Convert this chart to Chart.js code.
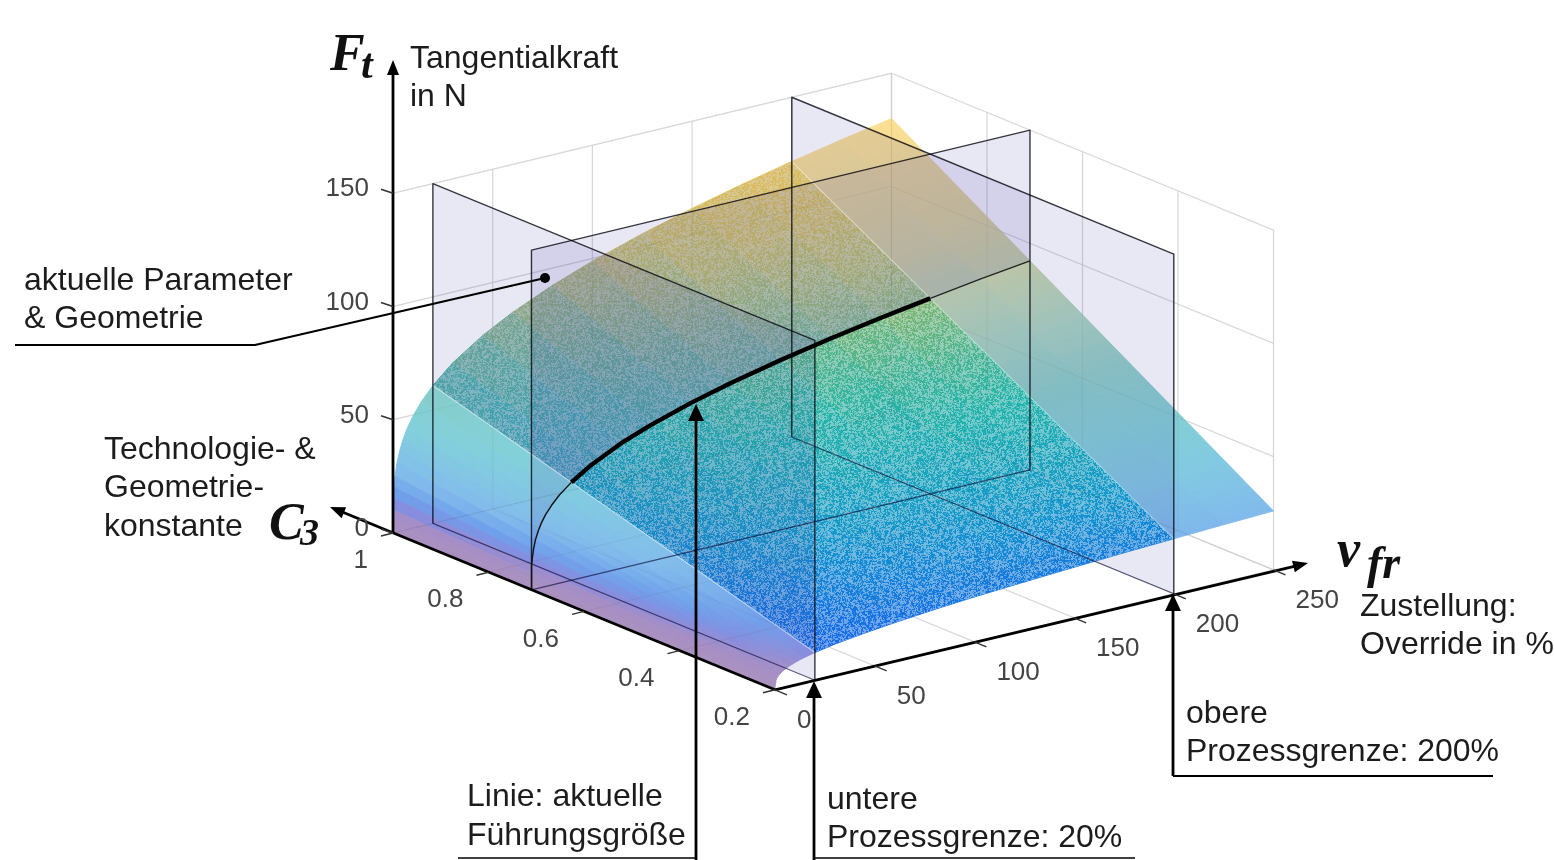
<!DOCTYPE html>
<html><head><meta charset="utf-8">
<style>html,body{margin:0;padding:0;background:#fff}canvas{display:block}</style>
<script src="https://cdn.jsdelivr.net/npm/chart.js@4/dist/chart.umd.min.js"></script>
</head><body><canvas id="c" width="1554" height="860"></canvas>
<script>
// ---- values ----
const C3_ROWS=[0.2,0.3,0.4,0.5,0.6,0.71,0.8,0.9,1];
const VFR_COLS=[0,0.002,0.01,0.05,0.2,0.5,1,2,3.5,5,7,10,14,20,30,45,60,80,100,125,150,175,200,225,250];
const FT_C020=[0,0.8,1.2,2.0,3.1,4.0,5.0,6.1,7.2,8.0,8.9,9.9,11.0,12.2,13.8,15.5,16.9,18.5,19.8,21.1,22.3,23.4,24.3,25.2,26];
const FT_C030=[0,1.1,1.9,3.0,4.6,6.1,7.4,9.2,10.8,12.1,13.4,14.9,16.4,18.3,20.6,23.3,25.4,27.7,29.6,31.7,33.5,35.0,36.5,37.8,39];
const FT_C040=[0,1.5,2.5,4.0,6.1,8.1,9.9,12.2,14.4,16.1,17.8,19.8,21.9,24.4,27.5,31.1,33.9,37.0,39.5,42.2,44.6,46.7,48.6,50.4,52];
const FT_C050=[0,1.9,3.1,5.1,7.7,10.1,12.4,15.3,18.1,20.1,22.3,24.8,27.4,30.5,34.4,38.9,42.4,46.2,49.4,52.8,55.8,58.4,60.8,63,65];
const FT_C060=[0,2.3,3.7,6.1,9.2,12.1,14.9,18.4,21.7,24.1,26.7,29.7,32.9,36.5,41.3,46.6,50.8,55.4,59.3,63.4,66.9,70.1,73.0,75.6,78];
const FT_C071=[0,2.7,4.4,7.2,10.9,14.3,17.6,21.7,25.6,28.5,31.6,35.1,38.9,43.2,48.8,55.2,60.1,65.6,70.1,75.0,79.2,82.9,86.3,89.5,92.3];
const FT_C080=[0,3.0,5.0,8.1,12.2,16.2,19.8,24.5,28.9,32.2,35.6,39.6,43.8,48.7,55.0,62.2,67.8,73.9,79.0,84.5,89.2,93.4,97.3,100.8,104];
const FT_C090=[0,3.4,5.6,9.1,13.8,18.2,22.3,27.5,32.5,36.2,40.1,44.6,49.3,54.8,61.9,69.9,76.2,83.2,88.9,95.0,100.4,105.1,109.4,113.4,117];
const FT_C100=[0,3.8,6.2,10.1,15.3,20.2,24.8,30.6,36.1,40.2,44.5,49.5,54.8,60.9,68.8,77.7,84.7,92.4,98.8,105.6,111.5,116.8,121.6,126,130];
const FT_TABLE=[FT_C020,FT_C030,FT_C040,FT_C050,FT_C060,FT_C071,FT_C080,FT_C090,FT_C100];
const C3_TICKS=[0.2,0.4,0.6,0.8,1];
const C3_TICK_LABELS=['0.2','0.4','0.6','0.8','1'];
const VFR_TICKS=[0,50,100,150,200,250];
const FT_TICKS=[0,50,100,150];
const FT_TOP=150;
const VFR_LOWER=20, VFR_UPPER=200, C3_CURRENT=0.71;

// ---- 3-D view ----
function project(c,v,f){return {x:393+(1-c)*477.5+v*1.994, y:533+(1-c)*196-v*0.48-f*2.265};}

function ramp(stops,f){
  if(f<=stops[0][0])return stops[0].slice(1);
  for(let i=1;i<stops.length;i++){
    if(f<=stops[i][0]){const a=stops[i-1],b=stops[i],t=(f-a[0])/(b[0]-a[0]);
      return [0,1,2].map(k=>a[k+1]+(b[k+1]-a[k+1])*t);}
  }
  return stops[stops.length-1].slice(1);
}
const SMOOTH=[[0,170,145,190],[8,165,142,198],[12,135,140,222],[18,110,160,235],[26,130,187,236],[45,130,208,220],[60,135,205,200],[78,175,215,190],[100,222,216,155],[130,253,224,145]];
const DENSE=[[0,20,90,235],[12,20,100,235],[35,15,150,205],[60,30,180,170],[78,90,180,130],[100,200,190,70],[122,245,190,50]];
const css=c=>`rgb(${c.map(Math.round).join(',')})`;

const ds=[];
function push(points,o){
  ds.push(Object.assign({data:points,showLine:true,pointRadius:0,pointHoverRadius:0,borderWidth:0,fill:false,tension:0,order:-ds.length},o));
}
function polyFill(points,bg){push(points.concat([points[0]]),{fill:'shape',backgroundColor:bg,borderColor:'transparent'});}
function line(points,color,width){push(points,{borderColor:color,borderWidth:width});}

function cellGradient(stops,i,j){
  const fm=k=>(FT_TABLE[k][j]+FT_TABLE[k][j+1])/2, vm=(VFR_COLS[j]+VFR_COLS[j+1])/2;
  const a3=project(C3_ROWS[i],vm,fm(i)), b3=project(C3_ROWS[i+1],vm,fm(i+1));
  const e1=project(C3_ROWS[i],VFR_COLS[j],FT_TABLE[i][j]), e2=project(C3_ROWS[i],VFR_COLS[j+1],FT_TABLE[i][j+1]);
  const c0=css(ramp(stops,fm(i))), c1=css(ramp(stops,fm(i+1)));
  return ctx=>{
    const {x,y}=ctx.chart.scales;
    const ax=x.getPixelForValue(a3.x),ay=y.getPixelForValue(a3.y),bx=x.getPixelForValue(b3.x),by=y.getPixelForValue(b3.y);
    if(![ax,ay,bx,by].every(Number.isFinite))return c0;
    let ex=x.getPixelForValue(e2.x)-x.getPixelForValue(e1.x),ey=y.getPixelForValue(e2.y)-y.getPixelForValue(e1.y);
    const l=Math.hypot(ex,ey)||1;const nx=-ey/l,ny=ex/l,d=(bx-ax)*nx+(by-ay)*ny;
    const g=ctx.chart.ctx.createLinearGradient(ax,ay,ax+nx*d,ay+ny*d);
    g.addColorStop(0,c0);g.addColorStop(1,c1);return g;
  };
}
function cells(r0,r1,k0,k1,stops){
  for(let i=r1-1;i>=r0;i--)for(let j=k1-1;j>=k0;j--){
    const P=(a,b)=>project(C3_ROWS[a],VFR_COLS[b],FT_TABLE[a][b]);
    const pts=[P(i,j),P(i,j+1),P(i+1,j+1),P(i+1,j)];
    const g=cellGradient(stops,i,j);
    push(pts.concat([pts[0]]),{fill:'shape',backgroundColor:g,borderColor:g,borderWidth:0.9});
  }
}
function outline(r0,r1,k0,k1){
  const pts=[];const P=(a,b)=>project(C3_ROWS[a],VFR_COLS[b],FT_TABLE[a][b]);
  for(let i=r0;i<=r1;i++)pts.push(P(i,k0));
  for(let j=k0;j<=k1;j++)pts.push(P(r1,j));
  for(let i=r1;i>=r0;i--)pts.push(P(i,k1));
  for(let j=k1;j>=k0;j--)pts.push(P(r0,j));
  return pts;
}
function stipple(r0,r1,k0,k1){polyFill(outline(r0,r1,k0,k1),ctx=>noisePattern(ctx.chart.ctx));}
let _pat=null;
function noisePattern(ctx){
  if(_pat)return _pat;
  const n=256,cv=document.createElement('canvas');cv.width=cv.height=n;const cx=cv.getContext('2d');
  const im=cx.createImageData(n,n),h=new Float32Array(n*n);let s=12345;
  for(let i=0;i<n*n;i++){s=(Math.imul(s,1664525)+1013904223)>>>0;h[i]=(s>>>8)/16777216;}
  for(let y=0;y<n;y++)for(let x=0;x<n;x++){
    let t=0;for(let dy=-1;dy<=1;dy++)for(let dx=-1;dx<=1;dx++){
      const w=(dx===0&&dy===0)?5:(dx===0||dy===0?0.8:0.2);t+=w*h[((y+dy+n)%n)*n+(x+dx+n)%n];}
    t/=9;
    const a=Math.max(0,Math.min(1,(t-0.4)*5))*0.46;
    const p=(y*n+x)*4;im.data[p]=232;im.data[p+1]=236;im.data[p+2]=240;im.data[p+3]=a*255;
  }
  cx.putImageData(im,0,0);_pat=ctx.createPattern(cv,'repeat');return _pat;
}

// box grid
const GRID='rgb(226,226,228)';
function gridSet(col,w){
  const cMin=C3_ROWS[0],vMax=VFR_COLS[VFR_COLS.length-1];
  VFR_TICKS.forEach(v=>{line([project(cMin,v,0),project(1,v,0)],col,w);if(v>0)line([project(1,v,0),project(1,v,FT_TOP)],col,w);});
  C3_TICKS.forEach(c=>{line([project(c,0,0),project(c,vMax,0)],col,w);line([project(c,vMax,0),project(c,vMax,FT_TOP)],col,w);});
  FT_TICKS.forEach(f=>{line([project(1,0,f),project(1,vMax,f)],col,w);line([project(1,vMax,f),project(cMin,vMax,f)],col,w);});
}
gridSet(GRID,1.3);

const PLANE='rgba(70,60,170,0.125)';
const cMin=C3_ROWS[0],vMax=VFR_COLS[VFR_COLS.length-1];
const planeV=v=>polyFill([project(1,v,FT_TOP),project(cMin,v,FT_TOP),project(cMin,v,0),project(1,v,0)],PLANE);
const planeC=(v0,v1)=>polyFill([project(C3_CURRENT,v0,FT_TOP),project(C3_CURRENT,v1,FT_TOP),project(C3_CURRENT,v1,0),project(C3_CURRENT,v0,0)],PLANE);

const iC=C3_ROWS.indexOf(C3_CURRENT),nR=C3_ROWS.length-1,nK=VFR_COLS.length-1,kL=VFR_COLS.indexOf(VFR_LOWER),kU=VFR_COLS.indexOf(VFR_UPPER);
// back slab
cells(iC,nR,kU,nK,SMOOTH);planeC(VFR_UPPER,vMax);cells(0,iC,kU,nK,SMOOTH);
planeV(VFR_UPPER);
// middle slab
cells(iC,nR,kL,kU,DENSE);stipple(iC,nR,kL,kU);polyFill(outline(iC,nR,kL,kU),'rgba(175,175,185,0.26)');planeC(VFR_LOWER,VFR_UPPER);cells(0,iC,kL,kU,DENSE);stipple(0,iC,kL,kU);
planeV(VFR_LOWER);
// front slab
cells(iC,nR,0,kL,SMOOTH);planeC(0,VFR_LOWER);cells(0,iC,0,kL,SMOOTH);

// things seen through the translucent surface
gridSet('rgba(40,40,60,0.05)',1.2);
const EDGE='rgba(0,0,10,0.78)',EDGE2='rgba(5,5,50,0.62)';
// pale seams where the planes cut the surface
[kL,kU].forEach(k=>line(C3_ROWS.map((c,i)=>project(c,VFR_COLS[k],FT_TABLE[i][k])),'rgba(255,255,255,0.5)',1.1));
// plane edges
[VFR_LOWER,VFR_UPPER].forEach(v=>{
  line([project(1,v,0),project(1,v,FT_TOP),project(cMin,v,FT_TOP),project(cMin,v,0)],EDGE,1.4);
  line([project(1,v,0),project(cMin,v,0)],EDGE2,1.2);
});
line([project(C3_CURRENT,0,0),project(C3_CURRENT,0,FT_TOP),project(C3_CURRENT,vMax,FT_TOP),project(C3_CURRENT,vMax,0)],EDGE,1.4);
line([project(C3_CURRENT,0,0),project(C3_CURRENT,vMax,0)],EDGE2,1.2);
// the reference curve on the surface
const curve=(k0,k1)=>VFR_COLS.slice(k0,k1+1).map((v,j)=>project(C3_CURRENT,v,FT_C071[k0+j]));
line(curve(0,kL),'#111',1.4);
line(curve(kU,nK),'#222',1.3);
line(curve(kL,kU),'#000',4.4);

// ---- axes, ticks, annotations ----
const FS='Liberation Sans, Arial, sans-serif';
function arrow(c,x0,y0,x1,y1,w,hl,hw){
  const a=Math.atan2(y1-y0,x1-x0),cs=Math.cos(a),sn=Math.sin(a);
  c.lineWidth=w;c.strokeStyle='#000';c.fillStyle='#000';
  c.beginPath();c.moveTo(x0,y0);c.lineTo(x1-cs*hl*.8,y1-sn*hl*.8);c.stroke();
  c.beginPath();c.moveTo(x1,y1);c.lineTo(x1-cs*hl-sn*hw,y1-sn*hl+cs*hw);c.lineTo(x1-cs*hl+sn*hw,y1-sn*hl-cs*hw);c.closePath();c.fill();
}
function polyl(c,pts,w){c.lineWidth=w;c.strokeStyle='#000';c.beginPath();pts.forEach((p,i)=>i?c.lineTo(p[0],p[1]):c.moveTo(p[0],p[1]));c.stroke();}
const annotate={id:'annotate',afterDatasetsDraw(chart){
  const c=chart.ctx,{x:sx,y:sy}=chart.scales;
  const P=(a,b,d)=>{const p=project(a,b,d);return [sx.getPixelForValue(p.x),sy.getPixelForValue(p.y)];};
  c.save();c.lineCap='butt';c.lineJoin='miter';
  const O=P(cMin,0,0),Z=P(1,0,0);
  arrow(c,O[0],O[1],330,507,2.8,15,6);
  arrow(c,O[0],O[1],1308,563,2.8,15,6);
  arrow(c,Z[0],Z[1],Z[0],60,2.8,15,6);
  // ticks
  c.strokeStyle='#333';c.lineWidth=1.4;
  FT_TICKS.forEach(f=>{const p=P(1,0,f);c.beginPath();c.moveTo(p[0],p[1]);c.lineTo(p[0]-12,p[1]-4);c.stroke();});
  C3_TICKS.forEach(t=>{const p=P(t,0,0);c.beginPath();c.moveTo(p[0],p[1]);c.lineTo(p[0]-12,p[1]+3);c.stroke();});
  VFR_TICKS.forEach(v=>{const p=P(cMin,v,0);c.beginPath();c.moveTo(p[0],p[1]);c.lineTo(p[0]+12,p[1]+5);c.stroke();});
  // tick labels
  c.font='26px '+FS;c.fillStyle='#444';c.textBaseline='middle';
  c.textAlign='right';
  FT_TICKS.forEach(f=>{const p=P(1,0,f);c.fillText(String(f),369,p[1]-4);});
  C3_TICKS.forEach((t,i)=>{const p=P(t,0,0);c.fillText(C3_TICK_LABELS[i],p[0]-25,p[1]+28);});
  c.textAlign='left';
  VFR_TICKS.forEach(v=>{const p=P(cMin,v,0);c.fillText(String(v),p[0]+22,p[1]+31);});
  // leaders
  polyl(c,[[15,345],[255,345],[545,278]],2.2);
  c.fillStyle='#000';c.beginPath();c.arc(545,278,5,0,7);c.fill();
  arrow(c,696,860,696,404,2.8,17,8);
  arrow(c,814,860,814,681,2.8,17,8);
  arrow(c,1173,776,1173,594,2.8,17,8);
  polyl(c,[[1173,776],[1493,776]],2.2);
  polyl(c,[[458,858],[696,858]],1.6);
  polyl(c,[[814,858],[1135,858]],1.6);
  // texts
  c.font='32px '+FS;c.fillStyle='#1c1c1c';c.textAlign='left';c.textBaseline='middle';
  [['Tangentialkraft',410,59],['in N',410,97],['aktuelle Parameter',24,281],['& Geometrie',24,319],
   ['Technologie- &',104,450],['Geometrie-',104,488],['konstante',104,527],
   ['Zustellung:',1360,607],['Override in %',1360,645],['obere',1186,714],['Prozessgrenze: 200%',1186,752],
   ['untere',827,800],['Prozessgrenze: 20%',827,838],['Linie: aktuelle',467,797],['Führungsgröße',467,836]
  ].forEach(t=>c.fillText(t[0],t[1],t[2]));
  // symbols
  c.fillStyle='#111';c.textBaseline='alphabetic';
  const SERIF='"Liberation Serif", "DejaVu Serif", serif';
  [['F',330,70,52],['t',361,78,42],['C',269,539,52],['3',300,545,38],['v',1337,566,52],['fr',1367,578,46]].forEach(t=>{
    c.font='italic bold '+t[3]+'px '+SERIF;c.fillText(t[0],t[1],t[2]);});
  c.restore();
}};

new Chart(document.getElementById('c'),{
  type:'scatter',
  data:{datasets:ds},
  plugins:[annotate],
  options:{responsive:false,animation:false,events:[],
    layout:{padding:0},
    elements:{line:{tension:0,capBezierPoints:false,borderCapStyle:'butt',borderJoinStyle:'round'}},
    plugins:{legend:{display:false},tooltip:{enabled:false},title:{display:false}},
    scales:{x:{type:'linear',display:false,min:0,max:1554},y:{type:'linear',display:false,min:0,max:860,reverse:true}}
  }
});
</script></body></html>
